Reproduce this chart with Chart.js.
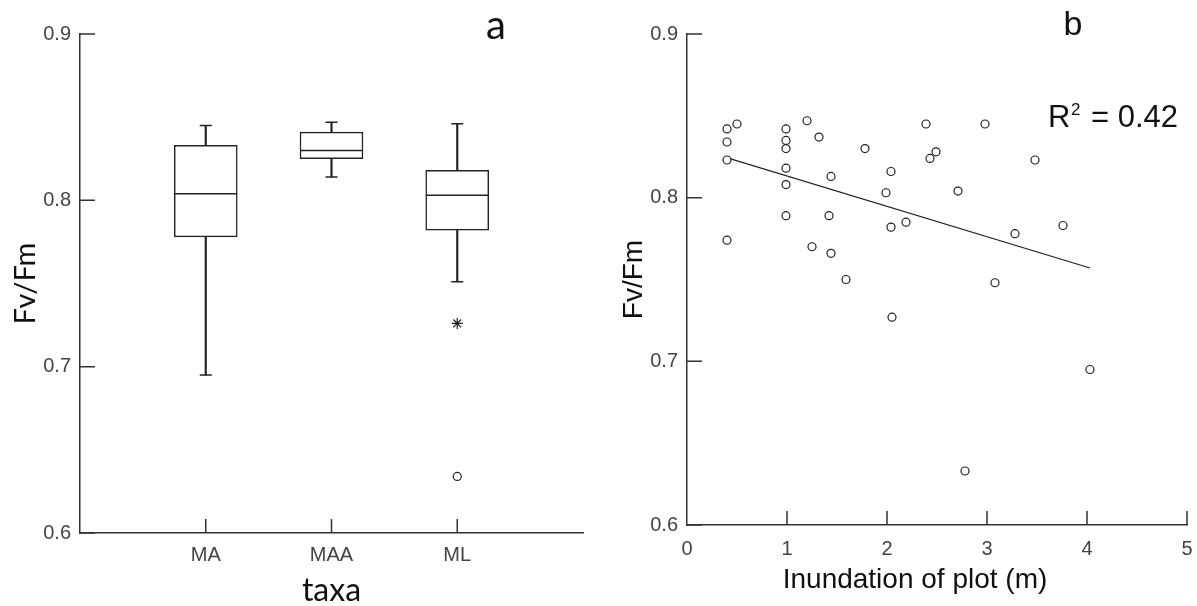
<!DOCTYPE html>
<html>
<head>
<meta charset="utf-8">
<title>Fv/Fm by taxa and inundation</title>
<script src="https://cdn.jsdelivr.net/npm/chart.js"></script>
<style>
  body { margin: 0; background: #fff; }
  #wrap { position: relative; width: 1197px; height: 606px; }
  #boxChart { position: absolute; left: 0; top: 0; }
  #scatterChart { position: absolute; left: 600px; top: 0; }
</style>
</head>
<body>
<div id="wrap">
  <canvas id="boxChart" width="600" height="606"></canvas>
  <canvas id="scatterChart" width="597" height="606"></canvas>
</div>
<script>
// panel a - box plot per taxon (slots 0 and 4 are empty padding on the axis)
const taxa = ['', 'MA', 'MAA', 'ML', ''];
const whiskLow  = [null, 0.695, 0.814, 0.751, null];
const boxQ1     = [null, 0.778, 0.825, 0.782, null];
const boxMedian = [null, 0.804, 0.830, 0.803, null];
const boxQ3     = [null, 0.833, 0.841, 0.818, null];
const whiskHigh = [null, 0.845, 0.847, 0.846, null];
const extremeOutlier = [null, null, null, 0.634, null];
const starOutlier    = [null, null, null, 0.726, null];

// panel b - scatter of Fv/Fm vs inundation depth
const inundation = [0.40, 0.50, 0.40, 0.40, 0.40, 0.99, 0.99, 0.99, 0.99, 0.99, 0.99,
  1.20, 1.32, 1.44, 1.42, 1.25, 1.44, 1.59, 1.78, 2.04, 1.99, 2.04, 2.19, 2.05,
  2.39, 2.49, 2.43, 2.71, 2.98, 2.78, 3.08, 3.28, 3.48, 3.76, 4.03];
const fvfm = [0.842, 0.845, 0.834, 0.823, 0.774, 0.842, 0.835, 0.830, 0.818, 0.808, 0.789,
  0.847, 0.837, 0.813, 0.789, 0.770, 0.766, 0.750, 0.830, 0.816, 0.803, 0.782, 0.785, 0.727,
  0.845, 0.828, 0.824, 0.804, 0.845, 0.633, 0.748, 0.778, 0.823, 0.783, 0.695];
const fitX = [0.42, 4.03];
const fitY = [0.824, 0.757];

const yTicks = [0.6, 0.7, 0.8, 0.9];
const xTicksB = [0, 1, 2, 3, 4, 5];

const INK = '#222';
const AXIS = '#333';
const TICKCOL = '#444';
const tickFont = { family: 'Liberation Sans', size: 20 };

// short tick marks pointing into the plot area
const innerTicks = {
  id: 'innerTicks',
  afterDraw(chart) {
    const { ctx, chartArea } = chart;
    const xs = chart.scales.x, ys = chart.scales.y;
    ctx.save();
    ctx.strokeStyle = AXIS;
    ctx.lineWidth = 1.5;
    ctx.beginPath();
    ys.ticks.forEach(t => {
      const py = ys.getPixelForValue(t.value);
      ctx.moveTo(chartArea.left, py);
      ctx.lineTo(chartArea.left + 15, py);
    });
    xs.ticks.forEach(t => {
      const lab = xs.type === 'category' ? xs.getLabelForValue(t.value) : String(t.value);
      if (lab === '' || t.value === 0) return;
      const px = xs.getPixelForValue(t.value);
      ctx.moveTo(px, chartArea.bottom);
      ctx.lineTo(px, chartArea.bottom - 14);
    });
    ctx.stroke();
    ctx.restore();
  }
};

// panel letters and annotation text
const panelText = {
  id: 'panelText',
  afterDraw(chart, args, opts) {
    const ctx = chart.ctx;
    ctx.save();
    ctx.fillStyle = '#111';
    ctx.textBaseline = 'alphabetic';
    (opts.items || []).forEach(it => {
      ctx.font = it.font;
      ctx.textAlign = it.align || 'left';
      ctx.fillText(it.text, it.x, it.y);
    });
    ctx.restore();
  }
};

function yScale(titleFont, titlePad, w) {
  return {
    type: 'linear',
    min: 0.6,
    max: 0.9,
    beginAtZero: false,
    afterBuildTicks: s => { s.ticks = yTicks.map(v => ({ value: v })); },
    afterFit: s => { s.width = w; s.paddingTop = 0; s.paddingBottom = 0; },
    ticks: { font: tickFont, color: TICKCOL, padding: 9, callback: v => Number(v).toFixed(1) },
    grid: { display: false, drawTicks: false },
    border: { display: true, color: AXIS, width: 1.5 },
    title: { display: true, text: 'Fv/Fm', color: '#111', font: titleFont, padding: titlePad }
  };
}

const baseOpts = {
  responsive: false,
  animation: false,
  events: [],
  plugins: { legend: { display: false }, tooltip: { enabled: false } }
};

// ---- panel a
new Chart(document.getElementById('boxChart'), {
  type: 'bar',
  data: {
    labels: taxa,
    datasets: [
      {
        label: 'whisker',
        data: whiskLow.map((v, i) => v === null ? null : [v, whiskHigh[i]]),
        backgroundColor: INK,
        borderWidth: 0,
        barThickness: 1.5,
        grouped: false,
        order: 4
      },
      {
        label: 'box',
        data: boxQ1.map((v, i) => v === null ? null : [v, boxQ3[i]]),
        backgroundColor: '#fff',
        borderColor: INK,
        borderWidth: 1.5,
        borderSkipped: false,
        barThickness: 63,
        grouped: false,
        order: 3
      },
      {
        label: 'median',
        type: 'line',
        data: boxMedian,
        showLine: false,
        pointStyle: 'line',
        pointRadius: 31.5,
        pointBorderColor: INK,
        pointBorderWidth: 1.5,
        order: 2
      },
      {
        label: 'cap high',
        type: 'line',
        data: whiskHigh,
        showLine: false,
        pointStyle: 'line',
        pointRadius: 6,
        pointBorderColor: INK,
        pointBorderWidth: 1.5,
        order: 2
      },
      {
        label: 'cap low',
        type: 'line',
        data: whiskLow,
        showLine: false,
        pointStyle: 'line',
        pointRadius: 6,
        pointBorderColor: INK,
        pointBorderWidth: 1.5,
        order: 2
      },
      {
        label: 'outlier',
        type: 'line',
        data: starOutlier,
        showLine: false,
        pointStyle: 'star',
        pointRadius: 5.5,
        pointBorderColor: INK,
        pointBorderWidth: 1.2,
        order: 1
      },
      {
        label: 'extreme',
        type: 'line',
        data: extremeOutlier,
        showLine: false,
        pointStyle: 'circle',
        pointRadius: 4,
        pointBackgroundColor: '#fff',
        pointBorderColor: INK,
        pointBorderWidth: 1.2,
        order: 1
      }
    ]
  },
  options: {
    ...baseOpts,
    // the wide median markers would otherwise push the right edge in
    layout: { autoPadding: false, padding: { top: 34, right: 17, bottom: 0, left: 0 } },
    scales: {
      x: {
        type: 'category',
        offset: false,
        afterFit: s => { s.height = 73; s.paddingLeft = 0; s.paddingRight = 0; },
        ticks: { font: tickFont, color: TICKCOL, padding: 10, autoSkip: false, maxRotation: 0 },
        grid: { display: false, drawTicks: false },
        border: { display: true, color: AXIS, width: 1.5 },
        title: { display: true, text: 'taxa', color: '#111', font: { family: 'Lato', size: 32, lineHeight: 0.9 }, padding: { top: 0, bottom: 1 } }
      },
      y: yScale({ family: 'Lato', size: 29, lineHeight: 1 }, { top: 11, bottom: 0 }, 80)
    },
    plugins: {
      ...baseOpts.plugins,
      panelText: { items: [{ text: 'a', x: 496, y: 39, font: '40px Lato', align: 'center' }] }
    }
  },
  plugins: [innerTicks, panelText]
});

// ---- panel b
new Chart(document.getElementById('scatterChart'), {
  type: 'scatter',
  data: {
    datasets: [
      {
        label: 'plots',
        data: inundation.map((x, i) => ({ x: x, y: fvfm[i] })),
        pointRadius: 4,
        pointBackgroundColor: '#fff',
        pointBorderColor: INK,
        pointBorderWidth: 1.2,
        order: 1
      },
      {
        label: 'fit',
        type: 'line',
        data: fitX.map((x, i) => ({ x: x, y: fitY[i] })),
        borderColor: INK,
        borderWidth: 1.2,
        pointRadius: 0,
        order: 2
      }
    ]
  },
  options: {
    ...baseOpts,
    layout: { autoPadding: false, padding: { top: 34, right: 10, bottom: 0, left: 0 } },
    scales: {
      x: {
        type: 'linear',
        min: 0,
        max: 5,
        afterBuildTicks: s => { s.ticks = xTicksB.map(v => ({ value: v })); },
        afterFit: s => { s.height = 81; s.paddingLeft = 0; s.paddingRight = 0; },
        ticks: { font: tickFont, color: TICKCOL, padding: 12, maxRotation: 0, callback: v => String(v) },
        grid: { display: false, drawTicks: false },
        border: { display: true, color: AXIS, width: 1.5 },
        title: { display: false }
      },
      y: yScale({ family: 'Liberation Sans', size: 28, lineHeight: 1 }, { top: 20, bottom: 0 }, 87)
    },
    plugins: {
      ...baseOpts.plugins,
      panelText: { items: [
        { text: 'b', x: 473, y: 35, font: '34px "Liberation Sans"', align: 'center' },
        { text: 'R', x: 448, y: 127, font: '31px "Liberation Sans"', align: 'left' },
        { text: '2', x: 471, y: 115, font: '17px "Liberation Sans"', align: 'left' },
        { text: '= 0.42', x: 491, y: 127, font: '31px "Liberation Sans"', align: 'left' },
        { text: 'Inundation of plot (m)', x: 315, y: 588, font: '28px "Liberation Sans"', align: 'center' }
      ] }
    }
  },
  plugins: [innerTicks, panelText]
});
</script>
</body>
</html>
